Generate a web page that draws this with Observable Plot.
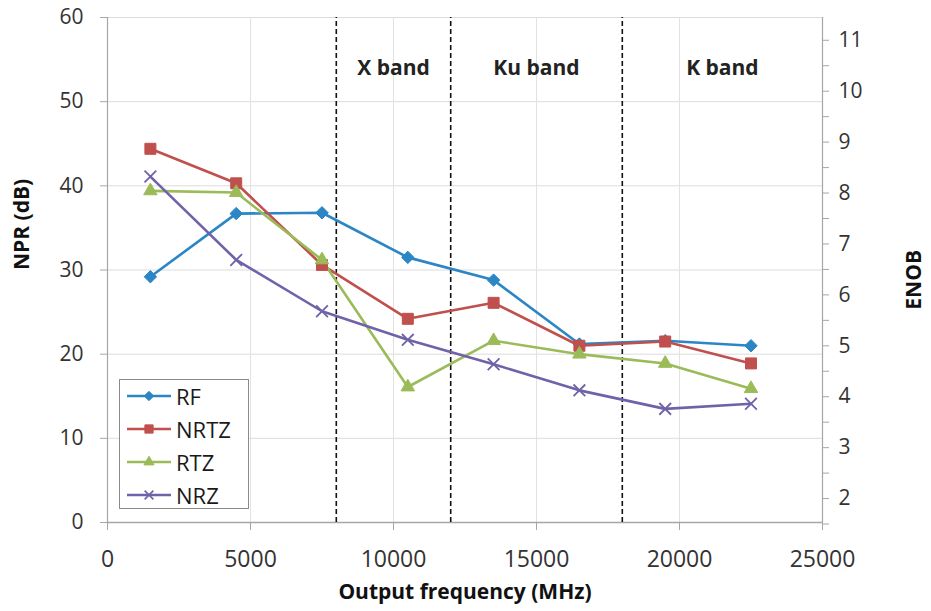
<!DOCTYPE html>
<html>
<head>
<meta charset="utf-8">
<script src="https://cdn.jsdelivr.net/npm/d3@7"></script>
<script src="https://cdn.jsdelivr.net/npm/@observablehq/plot@0.6"></script>
<style>
  html, body { margin: 0; padding: 0; background: #fff; }
  #wrap { position: relative; width: 931px; height: 611px; font-family: "Open Sans", sans-serif; }
  #legend { position: absolute; left: 119px; top: 379px; width: 130px; height: 130px; background: #fff;
            border: 1px solid #8a8a8a; box-sizing: border-box; }
  .entry { position: absolute; left: 6px; height: 30px; display: flex; align-items: center; font-size: 22px; color: #1a1a1a; }
  .entry svg { margin-right: 4px; }
</style>
</head>
<body>
<div id="wrap"><div id="legend"></div></div>
<script>
// ---- data ----
const freqs = [1500, 4500, 7500, 10500, 13500, 16500, 19500, 22500];
const seriesNames = ["RF", "NRTZ", "RTZ", "NRZ"];
const rf   = [29.2, 36.7, 36.8, 31.5, 28.8, 21.2, 21.6, 21.0];
const nrtz = [44.4, 40.3, 30.6, 24.2, 26.1, 21.0, 21.5, 18.9];
const rtz  = [39.4, 39.2, 31.2, 16.1, 21.6, 20.0, 18.9, 15.9];
const nrz  = [41.1, 31.2, 25.1, 21.7, 18.8, 15.7, 13.5, 14.1];
const xTicks = [0, 5000, 10000, 15000, 20000, 25000];
const yTicks = [0, 10, 20, 30, 40, 50, 60];
const enobTicks = [2, 3, 4, 5, 6, 7, 8, 9, 10, 11];
const enobMinor = [1.5, 2.5, 3.5, 4.5, 5.5, 6.5, 7.5, 8.5, 9.5, 10.5];
const bandEdges = [8000, 12000, 18000];
const bandLabels = ["X band", "Ku band", "K band"];
const bandCenters = [10000, 15000, 21500];
const bandLabelY = 54;
// ENOB axis relation to NPR axis: NPR = (ENOB - 1.53) * 6.05
const enobAtZero = 1.53, dbPerBit = 6.05;

// ---- build ----
const valuesBySeries = {RF: rf, NRTZ: nrtz, RTZ: rtz, NRZ: nrz};
const table = seriesNames.flatMap(s => freqs.map((f, i) => ({series: s, f, v: valuesBySeries[s][i]})));
const toNPR = e => (e - enobAtZero) * dbPerBit;
const fromNPR = d => d / dbPerBit + enobAtZero;

const style = {
  RF:   {color: "#2a86c4", symbol: "diamond2", r: 5.6, fill: true},
  NRTZ: {color: "#c0504d", symbol: "square", r: 6.2, fill: true},
  RTZ:  {color: "#9bbb59", symbol: "triangle", r: 5.0, fill: true},
  NRZ:  {color: "#7062a8", symbol: "times", r: 5.4, fill: false}
};

const axisGray = "#a6a6a6";
const marks = [
  Plot.gridY(yTicks.filter(d => d > 0), {stroke: "#dcdcdc", strokeOpacity: 1}),
  Plot.gridX(xTicks.filter(d => d > 0 && d < 25000), {stroke: "#e2e2e2", strokeOpacity: 1}),
  Plot.ruleX([0, 25000], {stroke: axisGray, strokeWidth: 1.2}),
  Plot.ruleY([0], {stroke: axisGray, strokeWidth: 1.5}),
  Plot.axisX(xTicks, {tickSize: 8, tickPadding: 20, fontSize: 23, stroke: axisGray, fill: "#333", label: null, tickFormat: d => String(d)}),
  Plot.axisY(yTicks, {anchor: "left", tickSize: 7, tickPadding: 17, fontSize: 21, stroke: axisGray, fill: "#333", label: null}),
  Plot.axisY(enobTicks.map(toNPR), {anchor: "right", tickSize: 6, tickPadding: 10, fontSize: 21, stroke: axisGray, fill: "#333",
    tickFormat: d => String(Math.round(fromNPR(d))), label: null}),
  Plot.axisY(enobMinor.map(toNPR), {anchor: "right", tickSize: 6, stroke: axisGray, tickFormat: () => "", label: null}),
  Plot.ruleX(bandEdges, {y1: 0, y2: 60, stroke: "#111", strokeWidth: 1.6, strokeDasharray: "5,3"}),
  Plot.text(bandLabels, {x: (d, i) => bandCenters[i], y: bandLabelY, text: d => d, fontSize: 21, fontWeight: "bold", fill: "#222"}),
];
for (const s of seriesNames) {
  const st = style[s];
  marks.push(Plot.line(table.filter(d => d.series === s), {x: "f", y: "v", stroke: st.color, strokeWidth: 2.6}));
}
for (const s of seriesNames) {
  const st = style[s];
  marks.push(Plot.dot(table.filter(d => d.series === s), {x: "f", y: "v", symbol: st.symbol, r: st.r,
    fill: st.fill ? st.color : "none", stroke: st.color, strokeWidth: st.fill ? 1 : 1.8}));
}
marks.push(
  Plot.text(["NPR (dB)"], {frameAnchor: "left", dx: -85, rotate: -90, fontSize: 21, fontWeight: "bold", fill: "#111"}),
  Plot.text(["ENOB"], {frameAnchor: "right", dx: 92, dy: -20, rotate: -90, fontSize: 21, fontWeight: "bold", fill: "#111"}),
  Plot.text(["Output frequency (MHz)"], {frameAnchor: "bottom", dy: 76, fontSize: 21, fontWeight: "bold", fill: "#111"})
);

const chart = Plot.plot({
  width: 931, height: 611,
  marginLeft: 107, marginRight: 109, marginTop: 17, marginBottom: 89,
  x: {domain: [0, 25000]},
  y: {domain: [0, 60]},
  style: {fontFamily: "'Open Sans', sans-serif", background: "#fff", overflow: "visible"},
  marks
});
const wrap = document.getElementById("wrap");
wrap.insertBefore(chart, wrap.firstChild);

// legend
const legend = document.getElementById("legend");
seriesNames.forEach((s, i) => {
  const st = style[s];
  const div = document.createElement("div");
  div.className = "entry";
  div.style.top = (1 + i * 33) + "px";
  const symMap = {diamond2: d3.symbolDiamond2, square: d3.symbolSquare, triangle: d3.symbolTriangle, times: d3.symbolTimes};
  const scale = 0.75;
  const path = d3.symbol(symMap[st.symbol], Math.PI * (st.r * scale) ** 2)();
  div.innerHTML = `<svg width="46" height="30"><line x1="1" x2="45" y1="15" y2="15" stroke="${st.color}" stroke-width="2.6"/>` +
    `<path transform="translate(23,15)" d="${path}" fill="${st.fill ? st.color : "none"}" stroke="${st.color}" stroke-width="${st.fill ? 1 : 1.6}"/></svg>` +
    `<span>${s}</span>`;
  legend.appendChild(div);
});
</script>
</body>
</html>
